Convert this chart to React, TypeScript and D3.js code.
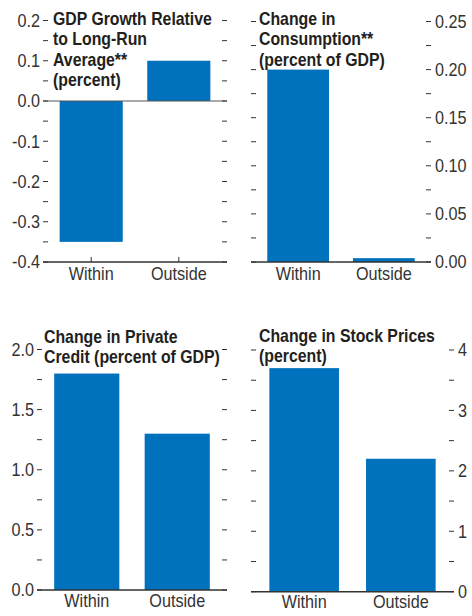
import * as React from "react";
import * as d3 from "d3";

const categories = ["Within", "Outside"];

const gdpGrowth = [-0.35, 0.1];
const consumption = [0.2, 0.004];
const privateCredit = [1.8, 1.3];
const stockPrices = [3.7, 2.2];

const gdpTitle = ["GDP Growth Relative", "to Long-Run", "Average**", "(percent)"];
const consumptionTitle = ["Change in", "Consumption**", "(percent of GDP)"];
const creditTitle = ["Change in Private", "Credit (percent of GDP)"];
const stockTitle = ["Change in Stock Prices", "(percent)"];

// [min, max, minor step, label step, decimals]
const gdpTicks = [-0.4, 0.2, 0.05, 0.1, 1];
const consumptionTicks = [0, 0.25, 0.025, 0.05, 2];
const creditTicks = [0, 2, 0.25, 0.5, 1];
const stockTicks = [0, 4, 0.5, 1, 0];

const BLUE = "#0071bc";
const FONT = "'Liberation Sans', Arial, sans-serif";
// the source uses a condensed face, squeeze the glyphs horizontally
const SX = 0.9;
const SX_BOLD = 0.88;

const panels = [
  { values: gdpGrowth, title: gdpTitle, ticks: gdpTicks, x0: 43, x1: 227, yTop: 20.5, yBot: 262,
    side: "left", titleX: 53, titleY: 25, labelY: 280, xTicks: true },
  { values: consumption, title: consumptionTitle, ticks: consumptionTicks, x0: 251, x1: 431, yTop: 21.5, yBot: 262,
    side: "right", titleX: 259, titleY: 25, labelY: 280, xTicks: false },
  { values: privateCredit, title: creditTitle, ticks: creditTicks, x0: 37, x1: 227, yTop: 349.5, yBot: 590,
    side: "left", titleX: 44, titleY: 343, labelY: 607, xTicks: false },
  { values: stockPrices, title: stockTitle, ticks: stockTicks, x0: 251, x1: 454, yTop: 350, yBot: 591.7,
    side: "right", titleX: 259, titleY: 342, labelY: 608, xTicks: false },
];

function drawChart(svgRef) {
  const svg = d3.select(svgRef.current);
  svg.selectAll("*").remove();

  panels.forEach((p) => {
    const [min, max, step, labelStep, dec] = p.ticks;
    const g = svg.append("g");

    const x = d3.scaleBand().domain(categories).range([p.x0, p.x1]).paddingInner(0.28).paddingOuter(0.19);
    const y = d3.scaleLinear().domain([min, max]).range([p.yBot, p.yTop]);

    const n = Math.round((max - min) / step);
    const ticks = d3.range(n + 1).map((i) => +(min + i * step).toFixed(4));
    const isLabel = (t) => Math.abs(t / labelStep - Math.round(t / labelStep)) < 1e-6;

    // bars
    g.selectAll(".bar")
      .data(p.values)
      .enter()
      .append("rect")
      .attr("x", (d, i) => x(categories[i]))
      .attr("width", x.bandwidth())
      .attr("y", (d) => y(Math.max(0, d)))
      .attr("height", (d) => Math.abs(y(d) - y(0)))
      .attr("fill", BLUE);

    // zero line (only when domain crosses zero)
    if (min < 0) {
      g.append("line")
        .attr("x1", p.x0).attr("x2", p.x1)
        .attr("y1", y(0)).attr("y2", y(0))
        .attr("stroke", "#555").attr("stroke-width", 1);
    }

    // tick marks on both sides, pointing inward
    g.selectAll(".tl")
      .data(ticks)
      .enter()
      .append("line")
      .attr("x1", p.x0).attr("x2", p.x0 + 5)
      .attr("y1", (d) => y(d)).attr("y2", (d) => y(d))
      .attr("stroke", "#333").attr("stroke-width", 1);
    g.selectAll(".tr")
      .data(ticks)
      .enter()
      .append("line")
      .attr("x1", p.x1 - 5).attr("x2", p.x1)
      .attr("y1", (d) => y(d)).attr("y2", (d) => y(d))
      .attr("stroke", "#333").attr("stroke-width", 1);

    // tick labels
    const lx = p.side === "left" ? p.x0 - 3 : p.x1 + 4;
    g.selectAll(".lab")
      .data(ticks.filter(isLabel))
      .enter()
      .append("text")
      .attr("transform", (d) => `translate(${lx},${y(d)}) scale(${SX},1)`)
      .attr("dy", "0.36em")
      .attr("text-anchor", p.side === "left" ? "end" : "start")
      .attr("font-family", FONT)
      .attr("font-size", 18)
      .attr("fill", "#333")
      .text((d) => d.toFixed(dec));

    // bottom axis line
    g.append("line")
      .attr("x1", p.x0).attr("x2", p.x1)
      .attr("y1", p.yBot).attr("y2", p.yBot)
      .attr("stroke", "#333").attr("stroke-width", 1.4);

    if (p.xTicks) {
      g.selectAll(".xt")
        .data(categories)
        .enter()
        .append("line")
        .attr("x1", (d) => x(d) + x.bandwidth() / 2)
        .attr("x2", (d) => x(d) + x.bandwidth() / 2)
        .attr("y1", p.yBot).attr("y2", p.yBot - 5)
        .attr("stroke", "#333");
    }

    g.selectAll(".xl")
      .data(categories)
      .enter()
      .append("text")
      .attr("transform", (d) => `translate(${x(d) + x.bandwidth() / 2},${p.labelY}) scale(${SX},1)`)
      .attr("text-anchor", "middle")
      .attr("font-family", FONT)
      .attr("font-size", 18)
      .attr("fill", "#333")
      .text((d) => d);

    // title
    g.selectAll(".title")
      .data(p.title)
      .enter()
      .append("text")
      .attr("transform", (d, i) => `translate(${p.titleX},${p.titleY + i * 20.3}) scale(${SX_BOLD},1)`)
      .attr("font-family", FONT)
      .attr("font-weight", "bold")
      .attr("font-size", 18)
      .attr("fill", "#231f20")
      .text((d) => d);
  });
}

const App = () => {
  const svgRef = React.useRef(null);

  React.useEffect(() => {
    drawChart(svgRef);
  }, [svgRef]);

  return (
    <svg
      ref={svgRef}
      width={472}
      height={616}
      style={{ position: "absolute", left: 0, top: 0, background: "#fff" }}
    />
  );
};

export default App;
